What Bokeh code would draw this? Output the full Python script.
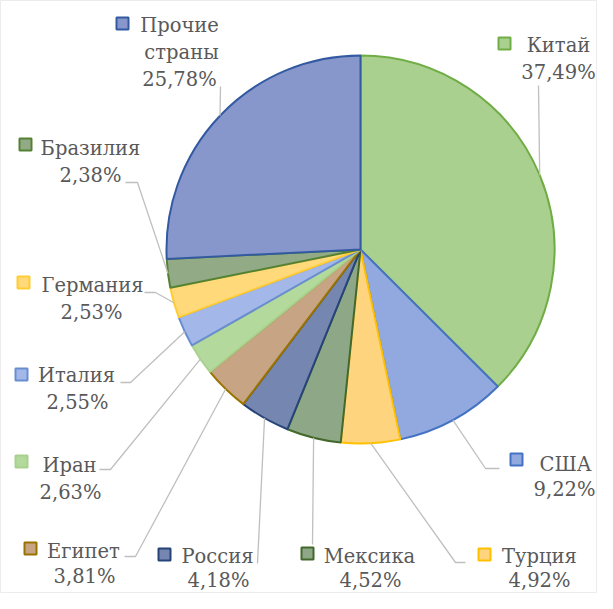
import math
from bokeh.plotting import figure
from bokeh.models import Range1d, ColumnDataSource
from bokeh.core.properties import value
from bokeh.embed import file_html
from bokeh.resources import INLINE

# ---- data ----
countries = ["Китай", "США", "Турция", "Мексика", "Россия", "Египет",
             "Иран", "Италия", "Германия", "Бразилия", "Прочие страны"]
shares = [37.49, 9.22, 4.92, 4.52, 4.18, 3.81, 2.63, 2.55, 2.53, 2.38, 25.78]
share_labels = ["37,49%", "9,22%", "4,92%", "4,52%", "4,18%", "3,81%",
                "2,63%", "2,55%", "2,53%", "2,38%", "25,78%"]

# ---- styles ----
fills = ["#aad08f", "#91a9de", "#ffd47e", "#8ea887", "#7586b0", "#c7a584",
         "#b4d99c", "#a3b8e8", "#ffd97a", "#92ab86", "#8797cc"]
borders = ["#70ad47", "#4472c4", "#ffc000", "#43682b", "#264478", "#997300",
           "#a9d18e", "#698ed0", "#ffcd33", "#548235", "#335aa1"]

W, H = 597, 593
CX, CY = 368, 257   # pie centre in page pixels
R = 194

def X(px):
    return px - CX

def Y(py):
    return CY - py

p = figure(width=W, height=H, output_backend="svg", toolbar_location=None,
           x_range=Range1d(X(8), X(8 + W)), y_range=Range1d(Y(8 + H), Y(8)),
           x_axis_type=None, y_axis_type=None, min_border=0,
           outline_line_color="#ececec", outline_line_width=1)
p.grid.visible = False
p.background_fill_color = "white"
p.border_fill_color = "white"

total = sum(shares)
starts, ends, mids = [], [], []
cum = 0.0
for s in shares:
    a0 = math.pi / 2 - 2 * math.pi * cum / total
    cum += s
    a1 = math.pi / 2 - 2 * math.pi * cum / total
    starts.append(a0)
    ends.append(a1)
    mids.append((a0 + a1) / 2)

src = ColumnDataSource(dict(start=starts, end=ends, fill=fills, line=borders))
p.wedge(x=0, y=0, radius=R, start_angle="start", end_angle="end",
        direction="clock", fill_color="fill", line_color="line",
        line_width=2, source=src)

# ---- label layout (page pixels) ----
layout = {
    "Китай":    dict(sq=(512, 51), name=(566, 53), val=(566, 80), lead=[(546, 93)]),
    "США":      dict(sq=(524, 467), name=(573, 472), val=(572, 497), lead=[(507, 476), (493, 476)]),
    "Турция":   dict(sq=(492, 562), name=(547, 564), val=(547, 588), lead=[(473, 570), (463, 570)]),
    "Мексика":  dict(sq=(315, 561), name=(377, 564), val=(378, 588), lead=[(320, 552)]),
    "Россия":   dict(sq=(172, 562), name=(225, 564), val=(226, 588), lead=[(265, 571)]),
    "Египет":   dict(sq=(38, 556), name=(91, 559), val=(92, 584), lead=[(132, 564), (143, 564)]),
    "Иран":     dict(sq=(29, 469), name=(77, 473), val=(78, 500), lead=[(107, 477), (118, 477)]),
    "Италия":   dict(sq=(29, 382), name=(84, 383), val=(85, 410), lead=[(128, 390), (138, 390)]),
    "Германия": dict(sq=(31, 290), name=(100, 293), val=(99, 320), lead=[(152, 300), (163, 300)]),
    "Бразилия": dict(sq=(33, 152), name=(98, 156), val=(98, 183), lead=[(133, 190), (145, 190)]),
    "Прочие страны": dict(sq=(130, 31), name=None, val=(187, 87), lead=[(228, 94)]),
}

tx, ty, tt = [], [], []
sqx, sqy, sqf, sql = [], [], [], []
lxs, lys = [], []
for i, c in enumerate(countries):
    L = layout[c]
    sqx.append(X(L["sq"][0])); sqy.append(Y(L["sq"][1]))
    sqf.append(fills[i]); sql.append(borders[i])
    if c == "Прочие страны":
        tx += [X(187), X(189)]; ty += [Y(33), Y(60)]; tt += ["Прочие", "страны"]
    else:
        tx.append(X(L["name"][0])); ty.append(Y(L["name"][1])); tt.append(c)
    tx.append(X(L["val"][0])); ty.append(Y(L["val"][1])); tt.append(share_labels[i])
    ex = R * math.cos(mids[i]); ey = R * math.sin(mids[i])
    xs = [X(pt[0]) for pt in L["lead"]] + [ex]
    ys = [Y(pt[1]) for pt in L["lead"]] + [ey]
    lxs.append(xs); lys.append(ys)

p.multi_line(xs=lxs, ys=lys, line_color="#bfbfbf", line_width=1.3)

p.scatter(x=sqx, y=sqy, marker="square", size=12, fill_color=sqf,
          line_color=sql, line_width=2)

p.text(x=tx, y=ty, text=tt, text_font=value("DejaVu Serif"),
       text_font_size="19.5px", text_color="#595959",
       text_align="center", text_baseline="middle")

open("out.html", "w").write(file_html(p, INLINE))
